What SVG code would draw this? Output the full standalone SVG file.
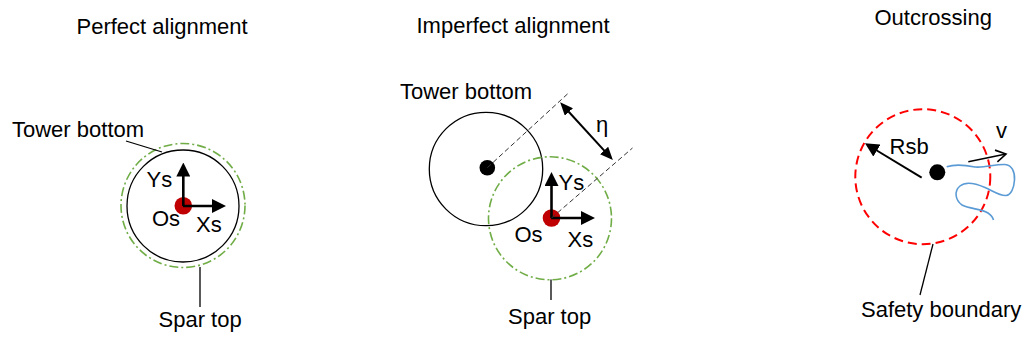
<svg xmlns="http://www.w3.org/2000/svg" width="1029" height="349" viewBox="0 0 1029 349">
<style>
text{font-family:"Liberation Sans",Arial,sans-serif;font-size:22px;fill:#000}
.circ{fill:none;stroke:#000;stroke-width:1.3}
.spar{fill:none;stroke:#70AD47;stroke-width:1.6;stroke-dasharray:9 3 2 3}
.safe{fill:none;stroke:#FF0000;stroke-width:2;stroke-dasharray:9 5}
.axis{stroke:#000;stroke-width:2.6;fill:none;marker-end:url(#ah)}
.lead{stroke:#000;stroke-width:1.3;fill:none}
.dash{stroke:#333;stroke-width:1;stroke-dasharray:5 3;fill:none}
.orig{fill:#C00000}
.dot{fill:#000}
</style>
<defs>
<marker id="ah" markerUnits="userSpaceOnUse" markerWidth="14" markerHeight="14" viewBox="0 0 14 14" refX="4" refY="7" orient="auto">
<path d="M0,0 L14,7 L0,14 z" fill="#000"/>
</marker>
<marker id="ah2" markerUnits="userSpaceOnUse" markerWidth="13" markerHeight="11" viewBox="0 0 13 11" refX="4" refY="5.5" orient="auto-start-reverse">
<path d="M0,0 L13,5.5 L0,11 z" fill="#000"/>
</marker>
<marker id="open" markerUnits="userSpaceOnUse" markerWidth="14" markerHeight="14" viewBox="0 0 14 14" refX="12" refY="7" orient="auto">
<path d="M2,1 L12,7 L2,13" fill="none" stroke="#000" stroke-width="1.6"/>
</marker>
</defs>

<g id="titles">
<text x="76.5" y="34">Perfect alignment</text>
<text x="416.5" y="33">Imperfect alignment</text>
<text x="874.5" y="25">Outcrossing</text>
</g>

<g id="panel1">
<circle class="circ" cx="183" cy="206" r="56"/>
<circle class="spar" cx="183" cy="205.5" r="62"/>
<circle class="orig" cx="183.3" cy="205.7" r="8.8"/>
<text x="146.5" y="186.5">Ys</text>
<text x="152" y="226">Os</text>
<text x="196" y="231.5">Xs</text>
<text x="12" y="136.5">Tower bottom</text>
<text x="158.5" y="326.5">Spar top</text>
</g>

<g id="panel2">
<circle class="circ" cx="486" cy="169" r="56.7"/>
<circle class="spar" cx="550" cy="218.3" r="61.5"/>
<circle class="dot" cx="487.3" cy="167.7" r="7.8"/>
<circle class="orig" cx="551.5" cy="218" r="8.8"/>
<text x="558.5" y="189.5">Ys</text>
<text x="514.5" y="241.5">Os</text>
<text x="567.5" y="247">Xs</text>
<text x="400" y="98.5">Tower bottom</text>
<text x="508" y="323.5">Spar top</text>
<text x="596" y="131.5">η</text>
</g>

<g id="panel3">
<circle class="safe" cx="922.8" cy="176.7" r="67.5"/>
<path d="M946.7,166.7 C955,164 965,165 975,167 C985,168 995,164 1005,164.5 C1012,165 1015,172 1014.5,180 C1014,188 1011,195 1006,195.5 C1000,196 993,191 985,187.5 C977,184 966,181 960,186 C954,191 955,200 962,205 C970,209 982,209 988,213 C991,215 993,218 993.5,220" fill="none" stroke="#5B9BD5" stroke-width="1.6"/>
<circle class="dot" cx="937.3" cy="172.3" r="8"/>
<text x="889.5" y="154">Rsb</text>
<text x="996" y="138">v</text>
<text x="861" y="316.5">Safety boundary</text>
</g>

<g id="connectors">
<line class="axis" x1="183.3" y1="206" x2="183.3" y2="172.5"/>
<line class="axis" x1="183" y1="206" x2="216" y2="206"/>
<line class="axis" x1="551.5" y1="218" x2="551.5" y2="182"/>
<line class="axis" x1="551" y1="218" x2="585" y2="218"/>
<line class="lead" x1="126" y1="141" x2="162" y2="152"/>
<line class="lead" x1="200" y1="267" x2="200" y2="307"/>
<line class="lead" x1="551" y1="279.5" x2="551" y2="300"/>
<line class="lead" x1="933" y1="244" x2="920" y2="295"/>
<line class="dash" x1="487.3" y1="167.7" x2="568" y2="93.5"/>
<line class="dash" x1="551.5" y1="218" x2="632.5" y2="148"/>
<line stroke="#000" stroke-width="2" marker-start="url(#ah2)" marker-end="url(#ah2)" x1="566.2" y1="109" x2="606.8" y2="153.4"/>
<line stroke="#000" stroke-width="2" marker-end="url(#ah)" x1="921.7" y1="177.7" x2="873.5" y2="148.5"/>
<line stroke="#000" stroke-width="1.6" marker-end="url(#open)" x1="968.3" y1="161.7" x2="1006" y2="154"/>
</g>
</svg>
